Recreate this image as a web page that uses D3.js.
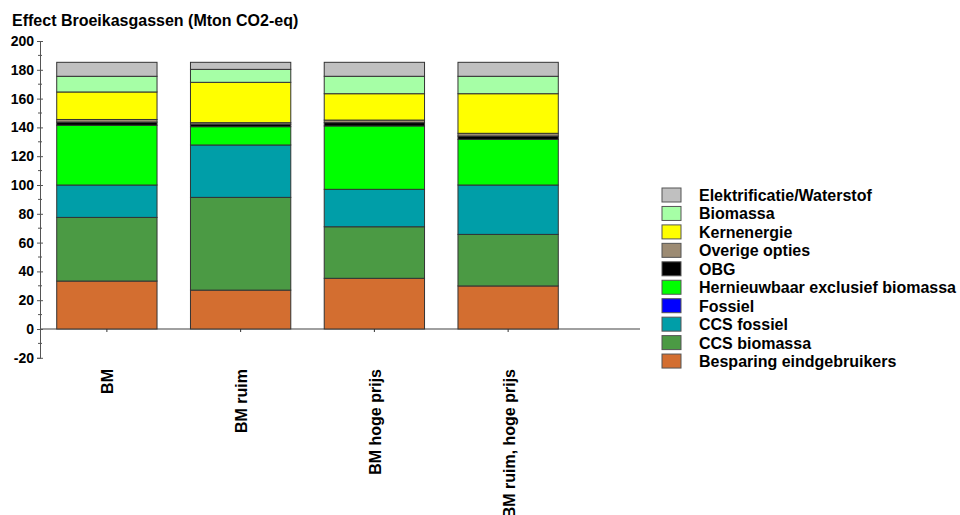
<!DOCTYPE html>
<html>
<head>
<meta charset="utf-8">
<script src="https://cdn.jsdelivr.net/npm/d3@7"></script>
<style>
  body { margin: 0; background: #fff; }
  text { font-family: "Liberation Sans", Arial, sans-serif; font-weight: bold; fill: #000; }
</style>
</head>
<body>
<svg id="chart" width="960" height="515"></svg>
<script>
// scenario names (x categories)
const categories = ['BM', 'BM ruim', 'BM hoge prijs', 'BM ruim, hoge prijs'];

// series, bottom to top of the stack
const seriesNames = ['Besparing eindgebruikers', 'CCS biomassa', 'CCS fossiel', 'Fossiel',
  'Hernieuwbaar exclusief biomassa', 'OBG', 'Overige opties', 'Kernenergie', 'Biomassa',
  'Elektrificatie/Waterstof'];

const besparing   = [33.3, 27.0, 35.2, 29.9];
const ccsBiomassa = [44.2, 64.4, 35.8, 35.8];
const ccsFossiel  = [22.5, 36.4, 26.0, 34.3];
const fossiel     = [0, 0, 0, 0];
const hernieuwbaar = [41.5, 12.7, 44.0, 31.7];
const obg         = [2.2, 1.7, 2.3, 2.3];
const overige     = [1.8, 1.1, 1.8, 1.9];
const kernenergie = [19.1, 28.0, 18.3, 27.5];
const biomassa    = [10.9, 9.0, 12.1, 12.1];
const elektrificatie = [9.7, 4.9, 9.7, 9.7];

const yTicks = [-20, 0, 20, 40, 60, 80, 100, 120, 140, 160, 180, 200];

const colors = ['#d36e30', '#4b9a44', '#009ea8', '#0000ff', '#00ff00', '#000000',
  '#9c8b73', '#ffff00', '#a6ffa6', '#c0c0c0'];

const seriesValues = [besparing, ccsBiomassa, ccsFossiel, fossiel, hernieuwbaar, obg,
  overige, kernenergie, biomassa, elektrificatie];

// build table for d3.stack
const table = categories.map((c, i) => {
  let row = { cat: c };
  seriesNames.forEach((s, j) => { row[s] = seriesValues[j][i]; });
  return row;
});

const svg = d3.select('#chart');

const x = d3.scaleBand().domain(categories).range([40, 575]).paddingInner(0.25).paddingOuter(0.125);
const y = d3.scaleLinear().domain([-20, 200]).range([357.8, 41]);
const color = d3.scaleOrdinal().domain(seriesNames).range(colors);

const stacked = d3.stack().keys(seriesNames)(table);

// title
svg.append('text')
  .attr('x', 12).attr('y', 26)
  .style('font-size', '16px')
  .text('Effect Broeikasgassen (Mton CO2-eq)');

// x axis line through zero
svg.append('line')
  .attr('x1', 40).attr('x2', 640)
  .attr('y1', y(0)).attr('y2', y(0))
  .attr('stroke', '#808080').attr('stroke-width', 1.5);

// bars
svg.append('g').selectAll('g')
  .data(stacked)
  .join('g')
  .attr('fill', d => color(d.key))
  .selectAll('rect')
  .data(d => d)
  .join('rect')
  .attr('x', d => x(d.data.cat))
  .attr('width', x.bandwidth())
  .attr('y', d => y(d[1]))
  .attr('height', d => y(d[0]) - y(d[1]))
  .attr('stroke', '#333')
  .attr('stroke-width', 1);

// x ticks
svg.append('g').selectAll('line')
  .data(categories)
  .join('line')
  .attr('x1', d => x(d) + x.bandwidth() / 2)
  .attr('x2', d => x(d) + x.bandwidth() / 2)
  .attr('y1', y(0)).attr('y2', y(0) + 3)
  .attr('stroke', '#333');

// x labels, rotated, reading upwards
svg.append('g').selectAll('text')
  .data(categories)
  .join('text')
  .attr('transform', d => `translate(${x(d) + x.bandwidth() / 2 + 6.5},369) rotate(-90)`)
  .attr('text-anchor', 'end')
  .style('font-size', '16px')
  .text(d => d);

// y axis
const yAxis = svg.append('g')
  .attr('transform', 'translate(40,0)')
  .call(d3.axisLeft(y).tickValues(yTicks).tickSize(3).tickPadding(3).tickFormat(d => String(d)));
yAxis.select('.domain').attr('stroke', '#555');
yAxis.selectAll('.tick line').attr('stroke', '#555').attr('x2', 3).attr('x1', -3);
yAxis.selectAll('.tick text').style('font-size', '14px').attr('font-family', null);

// minor ticks
svg.append('g').selectAll('line')
  .data(d3.range(-10, 200, 20))
  .join('line')
  .attr('x1', 38).attr('x2', 42)
  .attr('y1', d => y(d)).attr('y2', d => y(d))
  .attr('stroke', '#555');

// legend, top entry is the top of the stack
const legend = svg.append('g').selectAll('g')
  .data(seriesNames.slice().reverse())
  .join('g')
  .attr('transform', (d, i) => `translate(662,${188 + i * 18.45})`);

legend.append('rect')
  .attr('width', 19).attr('height', 14)
  .attr('fill', d => color(d))
  .attr('stroke', '#555');

legend.append('text')
  .attr('x', 37).attr('y', 13)
  .style('font-size', '16px')
  .text(d => d);
</script>
</body>
</html>
